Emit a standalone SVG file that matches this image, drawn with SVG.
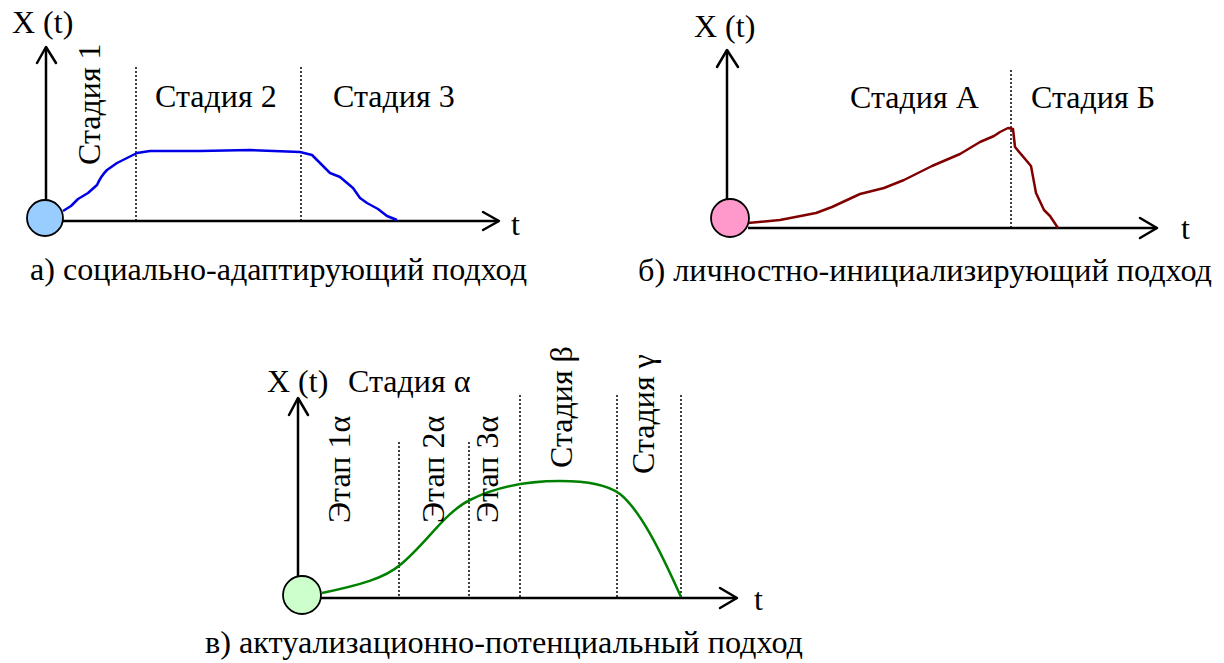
<svg xmlns="http://www.w3.org/2000/svg" width="1224" height="663" viewBox="0 0 1224 663">
<style>
text{font-family:"Liberation Serif","Times New Roman",serif;font-size:32px;fill:#000}
.ax{stroke:#000;stroke-width:2.5;fill:none}
.ah{stroke:#000;stroke-width:2.5;fill:none;stroke-linecap:round;stroke-linejoin:round}
.dot{stroke:#000;stroke-width:1.5;stroke-dasharray:2 2;fill:none}
.node{stroke:#000;stroke-width:1.8}
</style>
<rect width="1224" height="663" fill="#fff"/>
<g id="connectors">
  <!-- panel a -->
  <line class="ax" x1="46" y1="47" x2="46" y2="202"/>
  <polyline class="ah" points="37,63 46,47 56,63"/>
  <line class="ax" x1="62" y1="221" x2="499" y2="221"/>
  <polyline class="ah" points="483,212 499,221 483,230"/>
  <line class="dot" x1="136" y1="67" x2="136" y2="221"/>
  <line class="dot" x1="301" y1="67" x2="301" y2="221"/>
  <path d="M63,211 L71,206 L78,199 L88,193 L97,185 Q101,176 107,170 L117,163 L127,158 L137,153 L150,151 L200,151 L250,150 L300,152 L312,155 L320,163 L330,173 L340,177 L353,188 L360,198 L367,203 L378,209 L387,216 L397,220" stroke="#0000e6" stroke-width="2.5" fill="none" stroke-linejoin="round"/>
  <!-- panel b -->
  <line class="ax" x1="727" y1="50" x2="727" y2="200"/>
  <polyline class="ah" points="717,67 727,50 738,67"/>
  <line class="ax" x1="748" y1="228" x2="1157" y2="228"/>
  <polyline class="ah" points="1140,218 1157,228 1140,238"/>
  <line class="dot" x1="1011" y1="70" x2="1011" y2="228"/>
  <path d="M748,223 L780,220 L816,213 L832,207 L860,194 L884,188 L904,180 L932,166 L960,154 L980,142 L994,136 L1000,132 L1008,128 L1013,129 L1015,147 L1031,166 L1036,193 L1044,210 L1050,216 L1058,228" stroke="#800000" stroke-width="2.5" fill="none" stroke-linejoin="round"/>
  <!-- panel c -->
  <line class="ax" x1="298" y1="398" x2="298" y2="577"/>
  <polyline class="ah" points="289,415 298,398 308,415"/>
  <line class="ax" x1="320" y1="598" x2="737" y2="598"/>
  <polyline class="ah" points="720,588 737,598 720,608"/>
  <line class="dot" x1="399" y1="442" x2="399" y2="598"/>
  <line class="dot" x1="469" y1="442" x2="469" y2="598"/>
  <line class="dot" x1="520" y1="395" x2="520" y2="598"/>
  <line class="dot" x1="617" y1="395" x2="617" y2="598"/>
  <line class="dot" x1="681" y1="395" x2="681" y2="598"/>
  <path d="M322,593 C360,585 385,578 400,565 C425,545 445,512 470,500 C500,485 530,481 560,481 C590,481 608,485 620,494 C640,510 660,550 681,597" stroke="#008000" stroke-width="2.5" fill="none"/>
</g>
<g id="node-a">
  <circle class="node" cx="45" cy="218" r="18" fill="#99ccff"/>
  <text x="12" y="33">X (t)</text>
  <text x="100" y="165" transform="rotate(-90 100 165)">Стадия 1</text>
  <text x="155" y="107">Стадия 2</text>
  <text x="333" y="107">Стадия 3</text>
  <text x="511" y="235">t</text>
  <text x="30" y="280" textLength="497" lengthAdjust="spacingAndGlyphs">а) социально-адаптирующий подход</text>
</g>
<g id="node-b">
  <circle class="node" cx="730" cy="218" r="19" fill="#ff99cc"/>
  <text x="694" y="37">X (t)</text>
  <text x="850" y="108">Стадия А</text>
  <text x="1031" y="108">Стадия Б</text>
  <text x="1181" y="239">t</text>
  <text x="638" y="281" textLength="574" lengthAdjust="spacingAndGlyphs">б) личностно-инициализирующий подход</text>
</g>
<g id="node-c">
  <circle class="node" cx="302" cy="595" r="19" fill="#ccffcc"/>
  <text x="267" y="392">X (t)</text>
  <text x="348" y="392">Стадия α</text>
  <text x="350" y="523" transform="rotate(-90 350 523)">Этап 1α</text>
  <text x="444" y="523" transform="rotate(-90 444 523)">Этап 2α</text>
  <text x="498" y="523" transform="rotate(-90 498 523)">Этап 3α</text>
  <text x="572" y="468" transform="rotate(-90 572 468)">Стадия β</text>
  <text x="654" y="474" transform="rotate(-90 654 474)">Стадия γ</text>
  <text x="754" y="610">t</text>
  <text x="205" y="653" textLength="598" lengthAdjust="spacingAndGlyphs">в) актуализационно-потенциальный подход</text>
</g>
</svg>
